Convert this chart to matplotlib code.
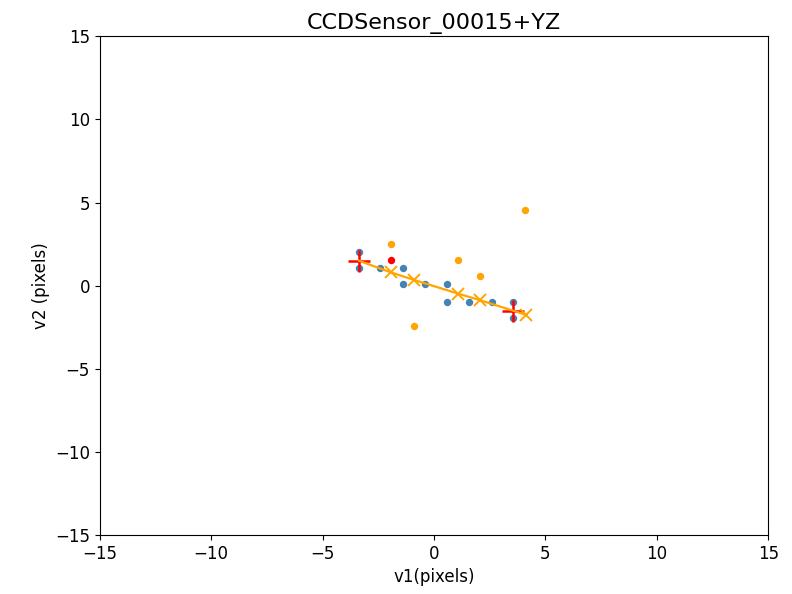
import matplotlib

matplotlib.use("Agg")
import matplotlib.pyplot as plt

# centroid offsets of detected spots (pixels)
blue_v1 = [-3.37, -3.37, -2.42, -1.37, -1.37, -0.40, 0.60, 0.60, 1.58, 2.62, 3.56, 3.56]
blue_v2 = [2.0, 1.04, 1.04, 1.04, 0.08, 0.08, 0.08, -0.96, -0.96, -0.96, -0.96, -1.97]

orange_v1 = [-1.93, 1.09, 2.07, -0.88, 4.10]
orange_v2 = [2.50, 1.55, 0.60, -2.45, 4.55]

red_v1 = [-1.93]
red_v2 = [1.55]

# end points of the fitted track
end_v1 = [-3.37, 3.56]
end_v2 = [1.50, -1.50]

# projections onto the fitted track
fit_v1 = [-3.37, -1.93, -0.88, 1.09, 2.07, 4.15]
fit_v2 = [1.50, 0.80, 0.34, -0.48, -0.87, -1.76]

plt.rcParams["font.size"] = 12

fig = plt.figure(figsize=(7.92, 5.94), dpi=100)
ax = fig.add_axes([0.126, 0.099, 0.844, 0.840])

ax.plot(blue_v1, blue_v2, "o", color="steelblue", markersize=4.3, zorder=2)
ax.plot(orange_v1, orange_v2, "o", color="orange", markersize=4.3, zorder=2)
ax.plot(red_v1, red_v2, "o", color="red", markersize=4.3, zorder=2)
ax.plot(end_v1, end_v2, "+", color="red", markersize=16, mew=1.8, zorder=3)
ax.plot(fit_v1, fit_v2, "-", color="orange", lw=1.6, zorder=4)
ax.plot(fit_v1[1:], fit_v2[1:], "x", color="orange", markersize=8, mew=1.4, zorder=4)

ax.set_xlim(-15, 15)
ax.set_ylim(-15, 15)
ax.set_xticks(range(-15, 16, 5))
ax.set_yticks(range(-15, 16, 5))
ax.set_xlabel("v1(pixels)")
ax.set_ylabel("v2 (pixels)")
ax.set_title("CCDSensor_00015+YZ", fontsize=16, pad=5)

fig.savefig("out.png", dpi=100)
